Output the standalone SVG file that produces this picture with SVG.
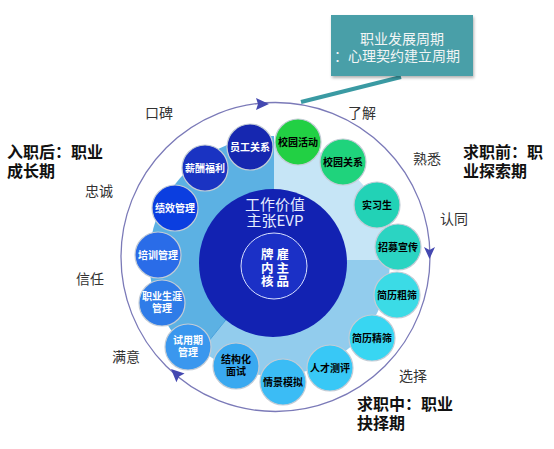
<svg xmlns="http://www.w3.org/2000/svg" width="554" height="449" viewBox="0 0 554 449">
<defs>
<style>
text{font-family:"Noto Sans CJK SC","Noto Sans",sans-serif;}
.lbl{font-size:14px;fill:#333;text-anchor:middle;}
.big{font-size:16px;font-weight:bold;fill:#111;}
.nt{font-size:10px;font-weight:bold;text-anchor:middle;}
.w{fill:#fff;}
.k{fill:#000;}
.node circle{stroke:#c3ccd6;stroke-width:1.2;}
.arr{fill:#4448b0;}
.core{font-size:12.5px;font-weight:bold;fill:#fff;text-anchor:middle;}
</style>
<filter id="sh" x="-10%" y="-10%" width="130%" height="140%">
<feDropShadow dx="1" dy="2" stdDeviation="1.5" flood-color="#000" flood-opacity="0.3"/>
</filter>
</defs>
<rect width="554" height="449" fill="#fff"/>

<g id="sectors">
<path d="M274,260 L274,142 A118,118 0 0 1 390,260 Z" fill="#c6e5f6"/>
<path d="M274,260 L390,260 A116,116 0 0 1 201,350 Z" fill="#92cced"/>
<path d="M274,260 L196,357 A124,124 0 0 1 274,136 Z" fill="#5cb1e3"/>
<line x1="274" y1="260" x2="200" y2="352" stroke="#4aa2dc" stroke-width="1"/>
</g>

<g id="outer-ring">
<circle cx="275.5" cy="257" r="154.5" fill="none" stroke="#7b7ab8" stroke-width="1.3"/>
</g>

<g id="connectors">
<line x1="301" y1="102" x2="401" y2="77" stroke="#3a9aa3" stroke-width="4"/>
<polygon class="arr" points="269,104 256,98 258,104 256,110"/>
<polygon class="arr" points="429.5,259 424,247 429.5,250 435,247"/>
<polygon class="arr" points="0,0 -13,-6 -11,0 -13,6" transform="translate(171,369) rotate(223)"/>
</g>

<g id="center">
<circle cx="273" cy="263" r="74" fill="#1222b2"/>
<text x="275" y="210" text-anchor="middle" font-size="15" fill="#e6ecff">工作价值</text>
<text x="275" y="226" text-anchor="middle" font-size="15" fill="#e6ecff">主张EVP</text>
<circle cx="274" cy="266" r="33" fill="#1b30c6" stroke="#d8e0ff" stroke-width="1"/>
<text class="core"><tspan x="275" y="259">牌 雇</tspan><tspan x="275" y="272.5">内 主</tspan><tspan x="275" y="286">核 品</tspan></text>
</g>

<g id="n-yggx" class="node"><circle cx="250" cy="147" r="23" fill="#1627b0"/><text class="nt w" x="250" y="151">员工关系</text></g>
<g id="n-xyhd" class="node"><circle cx="298" cy="142" r="23" fill="#22d044"/><text class="nt k" x="298" y="146">校园活动</text></g>
<g id="n-xygx" class="node"><circle cx="343" cy="162" r="23" fill="#1fd37c"/><text class="nt k" x="343" y="166">校园关系</text></g>
<g id="n-sxs" class="node"><circle cx="377" cy="205" r="23" fill="#22d2b6"/><text class="nt k" x="377" y="209">实习生</text></g>
<g id="n-zmxc" class="node"><circle cx="398" cy="247" r="23" fill="#2bd4c2"/><text class="nt k" x="398" y="251">招募宣传</text></g>
<g id="n-jlcs" class="node"><circle cx="397" cy="295" r="23" fill="#3bdbe6"/><text class="nt k" x="397" y="299">简历粗筛</text></g>
<g id="n-jljs" class="node"><circle cx="372" cy="338" r="23" fill="#38d6f2"/><text class="nt k" x="372" y="342">简历精筛</text></g>
<g id="n-rccp" class="node"><circle cx="330" cy="368" r="23" fill="#38c8f6"/><text class="nt k" x="330" y="372">人才测评</text></g>
<g id="n-qjmn" class="node"><circle cx="283" cy="382" r="23" fill="#3bbcf5"/><text class="nt k" x="283" y="386">情景模拟</text></g>
<g id="n-jghms" class="node"><circle cx="236" cy="366" r="23" fill="#3aa9f0"/><text class="nt k" x="236" y="363">结构化</text><text class="nt k" x="236" y="375">面试</text></g>
<g id="n-syq" class="node"><circle cx="188" cy="347" r="23" fill="#3a97ee"/><text class="nt w" x="188" y="344">试用期</text><text class="nt w" x="188" y="356">管理</text></g>
<g id="n-zysy" class="node"><circle cx="162" cy="303" r="23" fill="#2f7ce8"/><text class="nt w" x="162" y="300">职业生涯</text><text class="nt w" x="162" y="312">管理</text></g>
<g id="n-pxgl" class="node"><circle cx="158" cy="255" r="23" fill="#2a6ce8"/><text class="nt w" x="158" y="259">培训管理</text></g>
<g id="n-jxgl" class="node"><circle cx="175" cy="208" r="23" fill="#0b3ee0"/><text class="nt w" x="175" y="212">绩效管理</text></g>
<g id="n-xcfl" class="node"><circle cx="205" cy="168" r="23" fill="#1a33c2"/><text class="nt w" x="205" y="172">薪酬福利</text></g>

<g id="labels">
<text class="lbl" x="159" y="118">口碑</text>
<text class="lbl" x="362" y="118">了解</text>
<text class="lbl" x="427" y="164">熟悉</text>
<text class="lbl" x="454" y="224">认同</text>
<text class="lbl" x="413" y="381">选择</text>
<text class="lbl" x="126" y="362">满意</text>
<text class="lbl" x="90" y="284">信任</text>
<text class="lbl" x="99" y="196">忠诚</text>
</g>

<g id="phases">
<text class="big" x="7" y="158">入职后：职业</text>
<text class="big" x="7" y="177">成长期</text>
<text class="big" x="463" y="158">求职前：职</text>
<text class="big" x="463" y="177">业探索期</text>
<text class="big" x="357" y="410">求职中：职业</text>
<text class="big" x="357" y="429">抉择期</text>
</g>

<g id="callout">
<rect x="331" y="15" width="142" height="61" fill="#4a9fa8" filter="url(#sh)"/>
<text x="402" y="44" text-anchor="middle" font-size="14" fill="#f2f5f5">职业发展周期</text>
<text x="397" y="61" text-anchor="middle" font-size="14" fill="#f2f5f5">：心理契约建立周期</text>
</g>
</svg>
